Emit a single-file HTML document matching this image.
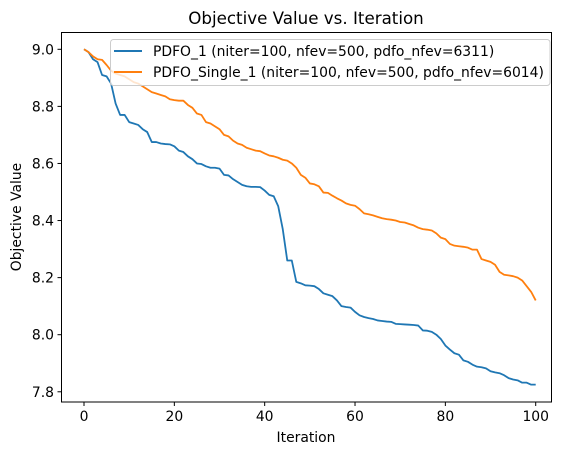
<!DOCTYPE html>
<html><head><meta charset="utf-8"><style>
body{margin:0;background:#fff}
svg text{font-family:"DejaVu Sans","Liberation Sans",sans-serif;fill:#000}
</style></head><body>
<svg id="chart" width="567" height="455" xmlns="http://www.w3.org/2000/svg">
<rect width="567" height="455" fill="#fff"/>
<text x="306" y="24" font-size="16.7" text-anchor="middle">Objective Value vs. Iteration</text>
<g id="plot"></g>
<rect x="61.5" y="32.5" width="490" height="369.5" fill="none" stroke="#000" stroke-width="1"/>
<text x="306" y="442" font-size="13.9" text-anchor="middle">Iteration</text>
<text x="0" y="0" font-size="13.9" text-anchor="middle" transform="translate(21,217) rotate(-90)">Objective Value</text>
<g>
<rect x="110.5" y="39.5" width="439.5" height="46" rx="3" fill="#fff" fill-opacity="0.8" stroke="#ccc"/>
<line x1="114" y1="51" x2="142" y2="51" stroke="#1f77b4" stroke-width="2"/>
<text x="153" y="56" font-size="13.9">PDFO_1 (niter=100, nfev=500, pdfo_nfev=6311)</text>
<line x1="114" y1="72" x2="142" y2="72" stroke="#ff7f0e" stroke-width="2"/>
<text x="153" y="77" font-size="13.9">PDFO_Single_1 (niter=100, nfev=500, pdfo_nfev=6014)</text>
</g>
</svg>
<script>
const xTicks=[0,20,40,60,80,100];
const yTicks=[7.8,8.0,8.2,8.4,8.6,8.8,9.0];
const yTickLabels=["7.8","8.0","8.2","8.4","8.6","8.8","9.0"];
const pdfo1=[9.0,8.99,8.965,8.955,8.91,8.905,8.88,8.81,8.77,8.77,8.745,8.74,8.735,8.72,8.71,8.675,8.675,8.67,8.668,8.667,8.66,8.645,8.64,8.625,8.615,8.6,8.598,8.59,8.585,8.585,8.582,8.56,8.558,8.545,8.535,8.525,8.52,8.518,8.518,8.517,8.505,8.49,8.485,8.45,8.37,8.26,8.26,8.185,8.18,8.173,8.172,8.17,8.16,8.145,8.14,8.135,8.12,8.1,8.097,8.095,8.08,8.068,8.062,8.058,8.055,8.05,8.048,8.046,8.045,8.038,8.037,8.036,8.035,8.034,8.032,8.015,8.014,8.01,8.0,7.985,7.962,7.948,7.935,7.93,7.91,7.905,7.895,7.888,7.886,7.882,7.872,7.868,7.865,7.858,7.848,7.843,7.84,7.832,7.832,7.825,7.825];
const pdfoSingle=[9.0,8.99,8.975,8.965,8.963,8.945,8.925,8.915,8.91,8.905,8.895,8.885,8.88,8.87,8.86,8.85,8.845,8.84,8.835,8.825,8.822,8.82,8.82,8.805,8.795,8.775,8.77,8.745,8.74,8.73,8.72,8.7,8.695,8.68,8.67,8.665,8.655,8.65,8.645,8.643,8.635,8.628,8.625,8.62,8.613,8.61,8.6,8.585,8.56,8.55,8.53,8.527,8.52,8.498,8.497,8.487,8.478,8.47,8.46,8.455,8.452,8.44,8.425,8.422,8.418,8.413,8.408,8.405,8.403,8.4,8.395,8.393,8.388,8.383,8.375,8.37,8.368,8.365,8.355,8.34,8.335,8.318,8.312,8.31,8.308,8.305,8.298,8.298,8.265,8.26,8.255,8.245,8.22,8.21,8.208,8.205,8.2,8.19,8.17,8.15,8.12];
const NS="http://www.w3.org/2000/svg";
const xs=v=>84+v*4.517;
const ys=v=>49.3+(9.0-v)*285.4;
const g=document.getElementById('plot');
xTicks.forEach(t=>{
  const l=document.createElementNS(NS,'line');
  l.setAttribute('x1',xs(t));l.setAttribute('x2',xs(t));l.setAttribute('y1',402);l.setAttribute('y2',406);l.setAttribute('stroke','#000');
  
  
  g.appendChild(l);
  const tx=document.createElementNS(NS,'text');
  tx.setAttribute('x',xs(t));tx.setAttribute('y',421);tx.setAttribute('font-size','13.9');tx.setAttribute('text-anchor','middle');
  tx.textContent=t;
  
  
  g.appendChild(tx);
});
yTicks.forEach((t,i)=>{
  const l=document.createElementNS(NS,'line');
  l.setAttribute('x1',57.5);l.setAttribute('x2',61.5);l.setAttribute('y1',ys(t));l.setAttribute('y2',ys(t));l.setAttribute('stroke','#000');
  
  
  g.appendChild(l);
  const tx=document.createElementNS(NS,'text');
  tx.setAttribute('x',54);tx.setAttribute('y',ys(t)+5);tx.setAttribute('font-size','13.9');tx.setAttribute('text-anchor','end');
  tx.textContent=yTickLabels[i];
  
  
  g.appendChild(tx);
});
function line(arr,color,name){
  const p=document.createElementNS(NS,'polyline');
  p.setAttribute('points',arr.map((v,i)=>xs(i).toFixed(2)+','+ys(v).toFixed(2)).join(' '));
  p.setAttribute('fill','none');p.setAttribute('stroke',color);p.setAttribute('stroke-width','1.8');p.setAttribute('stroke-linejoin','round');
  
  
  g.appendChild(p);
}
line(pdfo1,'#1f77b4','series-pdfo-1');
line(pdfoSingle,'#ff7f0e','series-pdfo-single-1');
</script>
</body></html>
